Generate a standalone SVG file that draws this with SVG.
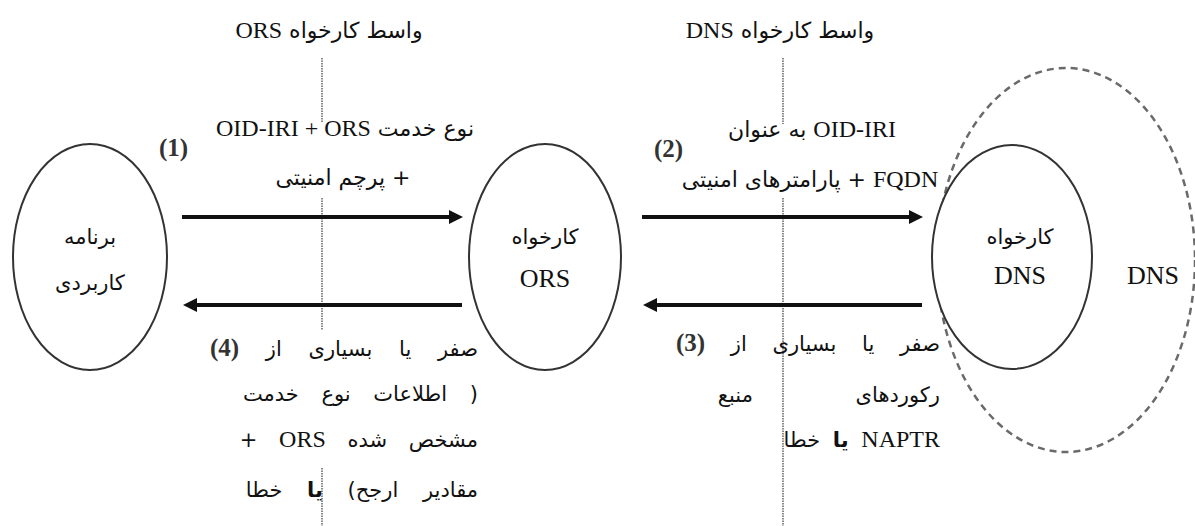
<svg xmlns="http://www.w3.org/2000/svg" width="1195" height="526" viewBox="0 0 1195 526">
<style>
text{font-family:"DejaVu Sans","Liberation Serif",sans-serif;fill:#111}
.fa{font-size:21px}
.fb{font-size:22px}
.l{font-family:"Liberation Serif",serif;font-size:24px}
.big{font-family:"Liberation Serif",serif;font-size:26px}
.num{font-family:"Liberation Serif",serif;font-size:25px;font-weight:bold;fill:#333}
.b{font-weight:bold}
.node{fill:#fff;stroke:#333;stroke-width:2}
.dns{fill:none;stroke:#6a6a6a;stroke-width:2.5;stroke-dasharray:7 5}
.arrow{stroke:#111;stroke-width:4;fill:none}
.guide{stroke:#888;stroke-width:2;stroke-dasharray:1.5 1}
</style>
<defs>
<marker id="ah" markerUnits="userSpaceOnUse" markerWidth="15" markerHeight="15" refX="3" refY="7" orient="auto">
<path d="M0,0 L14,7 L0,14 z" fill="#111"/>
</marker>
</defs>
<rect width="1195" height="526" fill="#fff"/>

<g id="dns-domain">
<ellipse class="dns" cx="1066" cy="260" rx="129" ry="192"/>
<text class="big" x="1153" y="284" text-anchor="middle">DNS</text>
</g>

<g id="guides">
<line class="guide" x1="322" y1="58" x2="322" y2="122"/>
<line class="guide" x1="322" y1="198" x2="322" y2="330"/>
<line class="guide" x1="322" y1="468" x2="322" y2="526"/>
<line class="guide" x1="783" y1="58" x2="783" y2="124"/>
<line class="guide" x1="783" y1="198" x2="783" y2="526"/>
</g>

<g id="app">
<ellipse class="node" cx="90" cy="257" rx="77" ry="113"/>
<text class="fa" x="90" y="244" text-anchor="middle" direction="rtl">برنامه</text>
<text class="fa" x="90" y="290" text-anchor="middle" direction="rtl">کاربردی</text>
</g>

<g id="ors-client">
<ellipse class="node" cx="545" cy="257" rx="76" ry="113"/>
<text class="fa" x="545" y="244" text-anchor="middle" direction="rtl">کارخواه</text>
<text class="big" x="545" y="287" text-anchor="middle">ORS</text>
</g>

<g id="dns-client">
<ellipse class="node" cx="1012" cy="257" rx="80" ry="112"/>
<text class="fa" x="1020" y="244" text-anchor="middle" direction="rtl">کارخواه</text>
<text class="big" x="1020" y="284" text-anchor="middle">DNS</text>
</g>

<g id="connectors">
<line class="arrow" x1="182" y1="217" x2="452" y2="217" marker-end="url(#ah)"/>
<line class="arrow" x1="642" y1="217" x2="912" y2="217" marker-end="url(#ah)"/>
<line class="arrow" x1="462" y1="305" x2="194" y2="305" marker-end="url(#ah)"/>
<line class="arrow" x1="922" y1="305" x2="654" y2="305" marker-end="url(#ah)"/>
</g>

<g id="labels">
<text class="fb" x="329" y="38" text-anchor="middle" direction="rtl">واسط کارخواه <tspan class="l">ORS</tspan></text>
<text class="fb" x="780" y="38" text-anchor="middle" direction="rtl">واسط کارخواه <tspan class="l">DNS</tspan></text>

<text class="fb" x="345" y="136" text-anchor="middle"><tspan class="l">OID-IRI + ORS</tspan> نوع خدمت</text>
<text class="fb" x="343" y="185" text-anchor="middle" direction="rtl">+ پرچم امنیتی</text>
<text class="num" x="159" y="156">(1)</text>

<text class="fb" x="812" y="137" text-anchor="middle" direction="rtl"><tspan class="l">OID-IRI</tspan> به عنوان</text>
<text class="fb" x="810" y="187" text-anchor="middle" direction="rtl"><tspan class="l">FQDN</tspan> + پارامترهای امنیتی</text>
<text class="num" x="654" y="157">(2)</text>

<text class="fa" x="478" y="356" direction="rtl" word-spacing="20">صفر یا بسیاری از <tspan class="num">(4)</tspan></text>
<text class="fa" x="478" y="401" direction="rtl" word-spacing="16">( اطلاعات نوع خدمت</text>
<text class="fa" x="478" y="447" direction="rtl" word-spacing="15">مشخص شده <tspan class="l">ORS</tspan> +</text>
<text class="fa" x="478" y="497" direction="rtl" word-spacing="18">مقادیر ارجح) <tspan class="b">یا</tspan> خطا</text>

<text class="fa" x="940" y="351" direction="rtl" word-spacing="19">صفر یا بسیاری از <tspan class="num">(3)</tspan></text>
<text class="fa" x="940" y="402" direction="rtl" word-spacing="96">رکوردهای منبع</text>
<text class="fa" x="940" y="447" direction="rtl" word-spacing="6"><tspan class="l">NAPTR</tspan> <tspan class="b">یا</tspan> خطا</text>
</g>
</svg>
